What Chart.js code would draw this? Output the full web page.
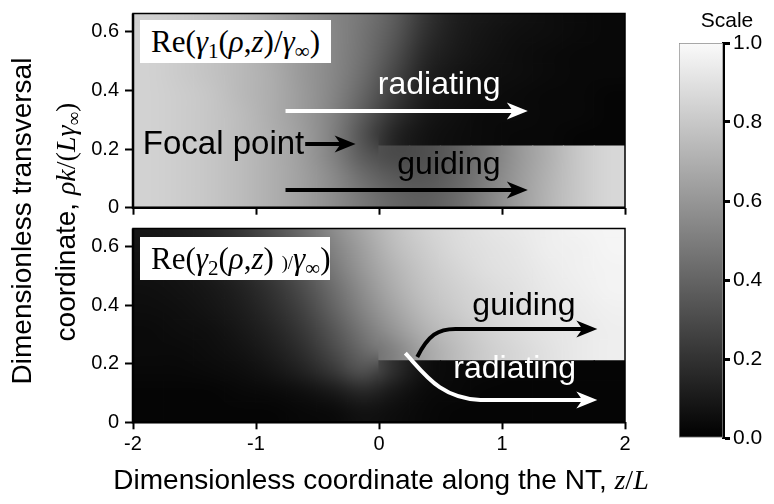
<!DOCTYPE html>
<html>
<head>
<meta charset="utf-8">
<title>Re(gamma) maps</title>
<script src="https://cdn.jsdelivr.net/npm/chart.js@4.4.1/dist/chart.umd.min.js"></script>
<style>
  body { margin: 0; background: #fff; }
  #wrap { position: relative; width: 774px; height: 504px; overflow: hidden; background: #fff;
          font-family: "Liberation Sans", Arial, sans-serif; color: #000; }
  #wrap canvas { position: absolute; }
  .txt { position: absolute; white-space: nowrap; line-height: 1; }
  .serif { font-family: "Liberation Serif", "Times New Roman", serif; }
  .box { position: absolute; background: #fff; font-family: "Liberation Serif", "Times New Roman", serif;
         font-size: 31px; line-height: 43px; padding-left: 11px; box-sizing: border-box; white-space: nowrap; }
  .sub { font-size: 0.68em; position: relative; top: 0.28em; }
  .tiny { font-size: 0.6em; }
  .rot { position: absolute; transform: translate(-50%, -50%) rotate(-90deg); white-space: nowrap;
         font-size: 28px; line-height: 1; }
</style>
</head>
<body>
<div id="wrap">
  <canvas id="topMap" width="660" height="222" style="left:0;top:0"></canvas>
  <canvas id="botMap" width="660" height="284" style="left:0;top:220px"></canvas>
  <canvas id="scaleBar" width="114" height="504" style="left:660px;top:0"></canvas>

  <div class="box" style="left:140px;top:20px;width:191px;height:43px">Re(<i>γ</i><span class="sub">1</span>(<i>ρ</i>,<i>z</i>)/<i>γ</i><span class="sub">∞</span>)</div>
  <div class="box" style="left:140px;top:237px;width:190px;height:43px">Re(<i>γ</i><span class="sub">2</span>(<i>ρ</i>,<i>z</i>) <span class="tiny">)/</span><i>γ</i><span class="sub">∞</span>)</div>

  <div class="rot" style="left:22px;top:221px">Dimensionless transversal</div>
  <div class="rot" style="left:66px;top:222px">coordinate, <span class="serif"><i>ρk</i>/(<i>Lγ</i><span class="sub">∞</span>)</span></div>
  <div class="txt" style="left:381px;top:466px;font-size:28px;transform:translateX(-50%)">Dimensionless coordinate along the NT, <span class="serif"><i>z</i>/<i>L</i></span></div>
  <div class="txt" style="left:727px;top:9px;font-size:21px;transform:translateX(-50%)">Scale</div>
</div>

<script>
// grid of the maps (cell centres along z, band edges along rho)
const zCenters = [-1.875, -1.625, -1.375, -1.125, -0.875, -0.625, -0.375, -0.125,
                  0.125, 0.375, 0.625, 0.875, 1.125, 1.375, 1.625, 1.875];
const rhoEdges = [0, 0.07, 0.14, 0.21, 0.28, 0.35, 0.42, 0.49, 0.56, 0.63, 0.70];
const coreBands = 3; // bands inside the NT (rho < 0.21)
const zTicks = [-2, -1, 0, 1, 2];
const rhoTicks = [0, 0.2, 0.4, 0.6];
const scaleTicks = [0, 0.2, 0.4, 0.6, 0.8, 1.0];

// Re(gamma1/gamma_inf), one list per rho band, lowest band first
const gamma1 = [
  [0.84, 0.82, 0.79, 0.75, 0.70, 0.64, 0.56, 0.47, 0.40, 0.37, 0.42, 0.52, 0.62, 0.72, 0.80, 0.86],
  [0.84, 0.82, 0.79, 0.75, 0.70, 0.64, 0.55, 0.43, 0.35, 0.34, 0.40, 0.50, 0.61, 0.71, 0.80, 0.86],
  [0.84, 0.82, 0.79, 0.75, 0.70, 0.63, 0.52, 0.36, 0.29, 0.31, 0.38, 0.48, 0.60, 0.70, 0.80, 0.86],
  [0.84, 0.82, 0.79, 0.75, 0.70, 0.63, 0.51, 0.32, 0.14, 0.07, 0.05, 0.04, 0.03, 0.03, 0.02, 0.02],
  [0.84, 0.82, 0.79, 0.75, 0.69, 0.62, 0.52, 0.36, 0.19, 0.09, 0.06, 0.04, 0.04, 0.03, 0.03, 0.02],
  [0.84, 0.82, 0.79, 0.74, 0.69, 0.62, 0.53, 0.40, 0.24, 0.11, 0.07, 0.05, 0.04, 0.03, 0.03, 0.02],
  [0.84, 0.81, 0.78, 0.74, 0.69, 0.61, 0.54, 0.43, 0.28, 0.13, 0.08, 0.06, 0.05, 0.04, 0.03, 0.03],
  [0.84, 0.81, 0.78, 0.74, 0.68, 0.61, 0.54, 0.45, 0.32, 0.16, 0.10, 0.07, 0.05, 0.04, 0.03, 0.03],
  [0.84, 0.81, 0.78, 0.73, 0.68, 0.60, 0.54, 0.46, 0.35, 0.19, 0.11, 0.08, 0.06, 0.05, 0.04, 0.03],
  [0.83, 0.81, 0.77, 0.73, 0.67, 0.60, 0.53, 0.47, 0.37, 0.21, 0.12, 0.09, 0.07, 0.05, 0.04, 0.03]
];

// Re(gamma2/gamma_inf)
const gamma2 = [
  [0.02, 0.02, 0.02, 0.02, 0.02, 0.03, 0.04, 0.07, 0.05, 0.03, 0.02, 0.02, 0.02, 0.02, 0.02, 0.02],
  [0.02, 0.02, 0.02, 0.03, 0.04, 0.06, 0.10, 0.16, 0.09, 0.04, 0.03, 0.02, 0.02, 0.02, 0.02, 0.02],
  [0.03, 0.03, 0.04, 0.05, 0.08, 0.13, 0.22, 0.33, 0.18, 0.06, 0.03, 0.03, 0.02, 0.02, 0.02, 0.02],
  [0.04, 0.04, 0.05, 0.07, 0.11, 0.18, 0.29, 0.42, 0.52, 0.66, 0.75, 0.82, 0.86, 0.90, 0.93, 0.95],
  [0.04, 0.05, 0.06, 0.09, 0.14, 0.22, 0.34, 0.48, 0.60, 0.71, 0.78, 0.84, 0.88, 0.91, 0.93, 0.95],
  [0.05, 0.06, 0.08, 0.11, 0.17, 0.26, 0.39, 0.53, 0.65, 0.75, 0.81, 0.86, 0.89, 0.92, 0.94, 0.96],
  [0.06, 0.07, 0.09, 0.13, 0.20, 0.30, 0.43, 0.57, 0.69, 0.78, 0.83, 0.87, 0.90, 0.93, 0.95, 0.97],
  [0.07, 0.08, 0.11, 0.16, 0.24, 0.34, 0.48, 0.61, 0.72, 0.80, 0.85, 0.89, 0.91, 0.94, 0.96, 0.97],
  [0.08, 0.10, 0.13, 0.19, 0.28, 0.39, 0.52, 0.64, 0.75, 0.82, 0.87, 0.90, 0.92, 0.95, 0.96, 0.98],
  [0.09, 0.11, 0.15, 0.22, 0.32, 0.43, 0.56, 0.67, 0.77, 0.84, 0.88, 0.91, 0.93, 0.95, 0.97, 0.98]
];

const FONT = '"Liberation Sans", Arial, sans-serif';

function gray(v) {
  const c = Math.round(Math.max(0, Math.min(1, v)) * 250);
  return "rgb(" + c + "," + c + "," + c + ")";
}

// cells of a block of bands are filled from a smoothed picture of that block's own values
function bandPattern(chart, rows, r0, r1) {
  const xs = chart.scales.x, ys = chart.scales.y;
  const n = zCenters.length, m = r1 - r0;
  const half = (zCenters[1] - zCenters[0]) / 2;
  const xL = xs.getPixelForValue(zCenters[0] - half);
  const xR = xs.getPixelForValue(zCenters[n - 1] + half);
  const yT = ys.getPixelForValue(rhoEdges[r1]);
  const yB = ys.getPixelForValue(rhoEdges[r0]);
  if (![xL, xR, yT, yB].every(isFinite) || xR <= xL || yB <= yT) return null;
  const key = [r0, r1, xL, xR, yT, yB].join("_");
  chart.$pat = chart.$pat || {};
  if (chart.$pat[key]) return chart.$pat[key];

  const src = document.createElement("canvas");
  src.width = n + 2;
  src.height = m + 2;
  const sctx = src.getContext("2d");
  for (let py = 0; py < m + 2; py++) {
    for (let px = 0; px < n + 2; px++) {
      const i = Math.min(n - 1, Math.max(0, px - 1));
      const r = Math.min(m - 1, Math.max(0, m - py));
      sctx.fillStyle = gray(rows[r0 + r][i]);
      sctx.fillRect(px, py, 1, 1);
    }
  }
  const full = document.createElement("canvas");
  full.width = chart.width;
  full.height = chart.height;
  const fctx = full.getContext("2d");
  fctx.imageSmoothingEnabled = true;
  fctx.imageSmoothingQuality = "high";
  const cw = (xR - xL) / n, ch = (yB - yT) / m;
  fctx.drawImage(src, xL - cw, yT - ch, xR - xL + 2 * cw, yB - yT + 2 * ch);
  const pat = chart.ctx.createPattern(full, "no-repeat");
  chart.$pat[key] = pat;
  return pat;
}

// before the focal point (z < 0) the field is continuous across the NT edge, after it is not
function cellFill(c, rows, r) {
  if (c.type !== "data") return gray(0.5);
  const i = c.dataIndex;
  const v = rows[r][i];
  if (!c.chart.scales.x) return gray(v);
  let pat;
  if (zCenters[i] < 0) pat = bandPattern(c.chart, rows, 0, rows.length);
  else if (r < coreBands) pat = bandPattern(c.chart, rows, 0, coreBands);
  else pat = bandPattern(c.chart, rows, coreBands, rows.length);
  return pat || gray(v);
}

//arrows and words drawn on the maps, positions in data units
const annot = {
  id: "annot",
  afterDatasetsDraw(chart, args, o) {
    const ctx = chart.ctx, xs = chart.scales.x, ys = chart.scales.y;
    const P = (p) => [xs.getPixelForValue(p[0]), ys.getPixelForValue(p[1])];
    ctx.save();
    (o.arrows || []).forEach((a) => {
      const s = P(a.start), t = P(a.tip);
      ctx.strokeStyle = a.color;
      ctx.fillStyle = a.color;
      ctx.lineWidth = 4;
      ctx.beginPath();
      ctx.moveTo(s[0], s[1]);
      if (a.curve) {
        const [c1, c2, e] = a.curve.map(P);
        ctx.bezierCurveTo(c1[0], c1[1], c2[0], c2[1], e[0], e[1]);
      }
      ctx.lineTo(t[0] - 10, t[1]);
      ctx.stroke();
      ctx.beginPath();
      ctx.moveTo(t[0], t[1]);
      ctx.lineTo(t[0] - 21, t[1] - 8.5);
      ctx.lineTo(t[0] - 15, t[1]);
      ctx.lineTo(t[0] - 21, t[1] + 8.5);
      ctx.closePath();
      ctx.fill();
    });
    (o.labels || []).forEach((l) => {
      const p = P([l.z, l.rho]);
      ctx.font = l.size + "px " + FONT;
      ctx.fillStyle = l.color;
      ctx.textAlign = "left";
      ctx.textBaseline = "alphabetic";
      ctx.fillText(l.text, p[0], p[1]);
    });
    ctx.restore();
  }
};

const frame = {
  id: "frame",
  afterDraw(chart) {
    const { ctx, chartArea: a } = chart;
    ctx.save();
    ctx.strokeStyle = "#000";
    ctx.lineWidth = 1.5;
    ctx.strokeRect(a.left, a.top, a.right - a.left, a.bottom - a.top);
    ctx.lineWidth = 2.5;
    ctx.beginPath();
    ctx.moveTo(a.left, a.top);
    ctx.lineTo(a.left, a.bottom);
    ctx.lineTo(a.right, a.bottom);
    ctx.stroke();
    ctx.restore();
  }
};

function mapChart(id, rows, pad, xHeight, showX, annotations) {
  const datasets = rows.map((row, r) => ({
    data: zCenters.map((z) => ({ x: z, y: [rhoEdges[r], rhoEdges[r + 1]] })),
    backgroundColor: (c) => cellFill(c, rows, r),
    borderWidth: 0,
    grouped: false,
    barPercentage: 1,
    categoryPercentage: 1,
    inflateAmount: 0.6,
    clip: 0
  }));
  return new Chart(document.getElementById(id), {
    type: "bar",
    data: { datasets },
    plugins: [annot, frame],
    options: {
      responsive: false,
      animation: false,
      layout: { padding: pad },
      plugins: { legend: { display: false }, tooltip: { enabled: false }, annot: annotations },
      scales: {
        x: {
          type: "linear", min: -2, max: 2, offset: false,
          afterBuildTicks: (s) => { s.ticks = zTicks.map((v) => ({ value: v })); },
          afterFit: (s) => { s.height = xHeight; s.paddingLeft = 0; s.paddingRight = 0; },
          grid: { offset: false, drawOnChartArea: false, drawTicks: true, tickLength: 7, tickWidth: 2, color: "#000" },
          border: { display: false },
          ticks: { display: showX, color: "#000", font: { size: 20, family: FONT }, padding: 3, maxRotation: 0, autoSkip: false }
        },
        y: {
          type: "linear", min: 0, max: 0.662,
          afterBuildTicks: (s) => { s.ticks = rhoTicks.map((v) => ({ value: v })); },
          afterFit: (s) => { s.width = 133; s.paddingTop = 0; s.paddingBottom = 0; },
          grid: { drawOnChartArea: false, drawTicks: true, tickLength: 8, tickWidth: 2, color: "#000" },
          border: { display: false },
          ticks: {
            color: "#000", font: { size: 20, family: FONT }, padding: 6,
            callback: (v) => (v === 0 ? "0" : v.toFixed(1))
          }
        }
      }
    }
  });
}

mapChart("topMap", gamma1, { left: 0, right: 35, top: 13.5, bottom: 6.3 }, 8, false, {
  arrows: [
    { color: "#fff", start: [-0.76, 0.33], tip: [1.21, 0.33] },
    { color: "#000", start: [-0.76, 0.06], tip: [1.21, 0.06] },
    { color: "#000", start: [-0.60, 0.217], tip: [-0.19, 0.217] }
  ],
  labels: [
    { text: "radiating", z: -0.01, rho: 0.388, size: 32, color: "#fff" },
    { text: "Focal point", z: -1.92, rho: 0.183, size: 33, color: "#000" },
    { text: "guiding", z: 0.149, rho: 0.115, size: 32, color: "#000" }
  ]
});

mapChart("botMap", gamma2, { left: 0, right: 35, top: 8.5, bottom: 41.7 }, 40, true, {
  arrows: [
    { color: "#000", start: [0.311, 0.223], curve: [[0.401, 0.298], [0.482, 0.319], [0.621, 0.319]], tip: [1.775, 0.319] },
    { color: "#fff", start: [0.214, 0.236], curve: [[0.376, 0.162], [0.498, 0.083], [0.824, 0.076]], tip: [1.775, 0.076] }
  ],
  labels: [
    { text: "guiding", z: 0.759, rho: 0.367, size: 32, color: "#000" },
    { text: "radiating", z: 0.604, rho: 0.151, size: 32, color: "#fff" }
  ]
});

// colour scale bar
new Chart(document.getElementById("scaleBar"), {
  type: "bar",
  data: {
    labels: ["scale"],
    datasets: [{
      data: [[scaleTicks[0], scaleTicks[scaleTicks.length - 1]]],
      backgroundColor: (c) => {
        const ys = c.chart.scales.y;
        if (!ys) return gray(0.5);
        const y0 = ys.getPixelForValue(0), y1 = ys.getPixelForValue(1);
        if (!isFinite(y0) || !isFinite(y1) || y0 === y1) return gray(0.5);
        const g = c.chart.ctx.createLinearGradient(0, y0, 0, y1);
        g.addColorStop(0, gray(0));
        g.addColorStop(1, gray(1));
        return g;
      },
      borderColor: "#8c8c8c",
      borderWidth: 1,
      borderSkipped: false,
      barPercentage: 1,
      categoryPercentage: 1
    }]
  },
  options: {
    responsive: false,
    animation: false,
    layout: { padding: { left: 19, right: 0, top: 43, bottom: 66 } },
    plugins: { legend: { display: false }, tooltip: { enabled: false } },
    scales: {
      x: { display: false },
      y: {
        position: "right", min: 0, max: 1,
        afterBuildTicks: (s) => { s.ticks = scaleTicks.map((v) => ({ value: v })); },
        afterFit: (s) => { s.width = 51; s.paddingTop = 0; s.paddingBottom = 0; },
        border: { display: true, color: "#000", width: 3 },
        grid: { drawOnChartArea: false, drawTicks: true, tickLength: 7, tickWidth: 3, color: "#000" },
        ticks: { color: "#000", font: { size: 21, family: FONT }, padding: 3, callback: (v) => v.toFixed(1) }
      }
    }
  }
});
</script>
</body>
</html>
